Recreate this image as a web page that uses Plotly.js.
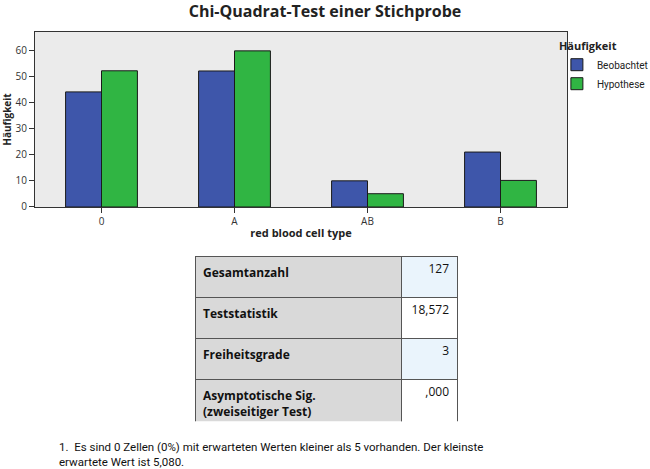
<!DOCTYPE html>
<html>
<head>
<meta charset="utf-8">
<script src="https://cdn.plot.ly/plotly-3.0.1.min.js"></script>
<style>
  html, body { margin: 0; padding: 0; background: #fff; }
  #chart { width: 650px; height: 469px; }
</style>
</head>
<body>
<div id="chart"></div>
<script>
    // chart values
    const categories = ['0', 'A', 'AB', 'B'];
    const observed = [44, 52, 10, 21];
    const expected = [52.07, 59.69, 5.08, 10.16];
    const seriesNames = ['Beobachtet', 'Hypothese'];

    // test summary table
    const statLabels = ['Gesamtanzahl', 'Teststatistik', 'Freiheitsgrade', 'Asymptotische Sig.<br>(zweiseitiger Test)'];
    const statValues = ['127', '18,572', '3', ',000'];

    const footnote = '1.  Es sind 0 Zellen (0%) mit erwarteten Werten kleiner als 5 vorhanden. Der kleinste<br>erwartete Wert ist 5,080.';

    const font = '"Open Sans", "DejaVu Sans", sans-serif';
    const narrow = 'Roboto, "Liberation Sans", sans-serif';

    const barTrace = (y, name, color) => ({
        type: 'bar',
        x: categories,
        y: y,
        name: name,
        marker: { color: color, line: { color: '#1a1a1a', width: 1 } },
        hoverinfo: 'y',
    });

    // the first row goes in the header so its fill can differ from the rest
    const labelFill = '#d9d9d9';
    const blueFill = '#eaf4fc';
    const table = {
        type: 'table',
        domain: { x: [0.3008, 0.7951], y: [0, 0.425] },
        columnwidth: [207, 56],
        header: {
            values: ['<b>' + statLabels[0] + '</b>', statValues[0]],
            align: ['left', 'right'],
            height: 41,
            fill: { color: [labelFill, blueFill] },
            line: { color: '#555', width: 1 },
            font: { family: font, size: 12, color: '#111' },
        },
        cells: {
            values: [
                statLabels.slice(1).map(s => '<b>' + s + '</b>'),
                statValues.slice(1),
            ],
            align: ['left', 'right'],
            height: 41,
            fill: { color: [
                statLabels.slice(1).map(() => labelFill),
                statValues.slice(1).map((v, i) => i % 2 === 0 ? '#ffffff' : blueFill),
            ] },
            line: { color: '#555', width: 1 },
            font: { family: font, size: 12, color: '#111' },
        },
    };

    const data = [
        barTrace(observed, seriesNames[0], '#3e56aa'),
        barTrace(expected, seriesNames[1], '#30b543'),
        table,
    ];

    const layout = {
        width: 650,
        height: 469,
        // fixed margins so the legend does not squeeze the plot frame
        margin: { l: 35, r: 83, t: 32, b: 47, autoexpand: false },
        paper_bgcolor: '#ffffff',
        plot_bgcolor: '#ebebeb',
        font: { family: font, size: 10, color: '#333' },
        title: {
            text: '<b>Chi-Quadrat-Test einer Stichprobe</b>',
            font: { family: font, size: 16, color: '#222' },
            x: 0.5, xref: 'container', y: 0.975, yanchor: 'middle',
        },
        barmode: 'group',
        bargap: 0.46,
        bargroupgap: 0,
        xaxis: {
            domain: [0, 1],
            range: [-0.5, 3.5],
            showline: true, mirror: true, linecolor: '#333', linewidth: 1,
            ticks: 'outside', ticklen: 5, tickcolor: '#333',
            tickfont: { size: 10, color: '#333' },
            title: { text: '<b>red blood cell type</b>', font: { size: 11, color: '#222' }, standoff: 2 },
        },
        yaxis: {
            domain: [0.5513, 1],
            range: [0, 66.9],
            dtick: 10,
            showgrid: false, zeroline: false,
            showline: true, mirror: true, linecolor: '#333', linewidth: 1,
            ticks: 'outside', ticklen: 5, tickcolor: '#333',
            tickfont: { size: 10, color: '#333' },
            title: { text: '<b>Häufigkeit</b>', font: { size: 10, color: '#222' }, standoff: 4 },
        },
        legend: {
            title: { text: '<b>Häufigkeit</b>', font: { family: font, size: 11, color: '#222' } },
            x: 0.981, xanchor: 'left',
            y: 0.99, yanchor: 'top',
            bgcolor: 'rgba(0,0,0,0)',
            font: { family: narrow, size: 10, color: '#222' },
            itemwidth: 30,
            tracegroupgap: 0,
        },
        annotations: [{
            text: footnote,
            xref: 'paper', yref: 'paper',
            x: 0.041, y: -0.04,
            xanchor: 'left', yanchor: 'top',
            align: 'left',
            showarrow: false,
            font: { family: narrow, size: 11.5, color: '#111' },
        }],
    };

    Plotly.newPlot('chart', data, layout, { displayModeBar: false, staticPlot: true });
</script>
</body>
</html>
